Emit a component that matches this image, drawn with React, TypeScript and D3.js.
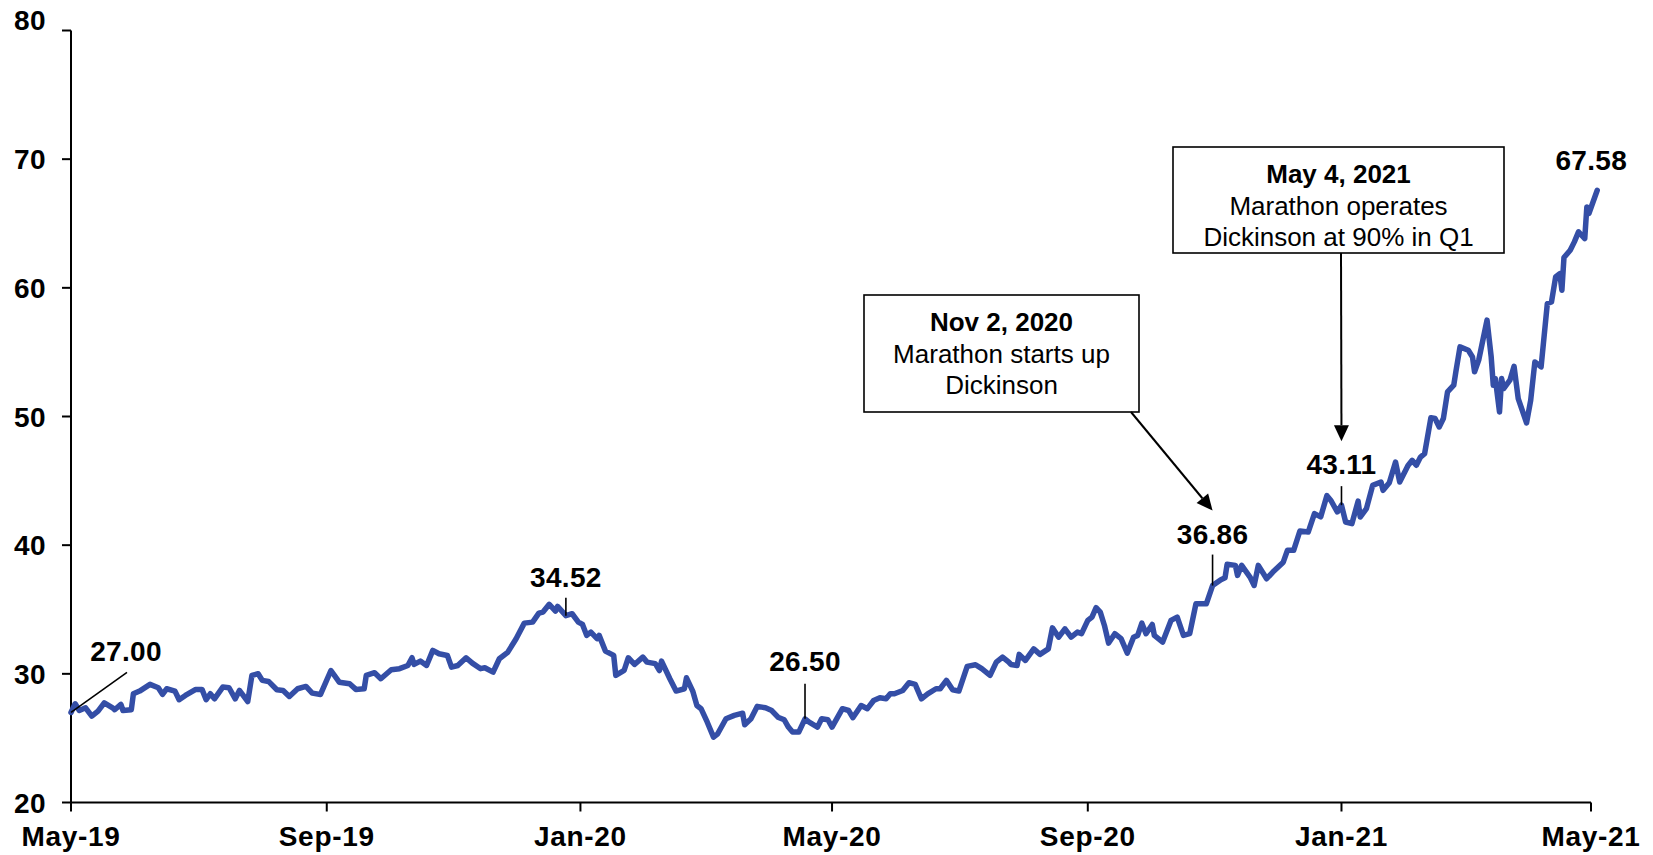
import React from "react";
import * as d3 from "d3";

// ---------- DATA ----------
const priceDates: string[] = [
  "2019-05-01","2019-05-03","2019-05-05","2019-05-08","2019-05-11","2019-05-14","2019-05-17","2019-05-21","2019-05-22","2019-05-25",
  "2019-05-26","2019-05-30","2019-05-31","2019-06-03","2019-06-08","2019-06-12","2019-06-14","2019-06-16","2019-06-20","2019-06-22",
  "2019-06-25","2019-06-30","2019-07-03","2019-07-05","2019-07-07","2019-07-09","2019-07-13","2019-07-16","2019-07-19","2019-07-21",
  "2019-07-25","2019-07-27","2019-07-30","2019-08-01","2019-08-04","2019-08-08","2019-08-11","2019-08-14","2019-08-18","2019-08-22",
  "2019-08-25","2019-08-29","2019-09-03","2019-09-07","2019-09-12","2019-09-15","2019-09-19","2019-09-20","2019-09-24","2019-09-27",
  "2019-10-02","2019-10-06","2019-10-10","2019-10-12","2019-10-13","2019-10-16","2019-10-19","2019-10-22","2019-10-25","2019-10-29",
  "2019-10-31","2019-11-03","2019-11-07","2019-11-10","2019-11-14","2019-11-16","2019-11-20","2019-11-23","2019-11-27","2019-12-01",
  "2019-12-05","2019-12-09","2019-12-12","2019-12-14","2019-12-17","2019-12-20","2019-12-21","2019-12-25","2019-12-28","2019-12-31",
  "2020-01-02","2020-01-04","2020-01-06","2020-01-09","2020-01-10","2020-01-13","2020-01-17","2020-01-18","2020-01-22","2020-01-24",
  "2020-01-27","2020-01-31","2020-02-02","2020-02-06","2020-02-08","2020-02-09","2020-02-13","2020-02-16","2020-02-20","2020-02-21",
  "2020-02-24","2020-02-26","2020-02-28","2020-03-02","2020-03-05","2020-03-07","2020-03-11","2020-03-15","2020-03-19","2020-03-20",
  "2020-03-23","2020-03-26","2020-03-30","2020-04-02","2020-04-05","2020-04-08","2020-04-10","2020-04-12","2020-04-15","2020-04-18",
  "2020-04-20","2020-04-24","2020-04-26","2020-04-29","2020-05-01","2020-05-06","2020-05-09","2020-05-11","2020-05-15","2020-05-18",
  "2020-05-21","2020-05-24","2020-05-27","2020-05-29","2020-05-31","2020-06-04","2020-06-07","2020-06-10","2020-06-13","2020-06-16",
  "2020-06-20","2020-06-22","2020-06-25","2020-06-28","2020-07-01","2020-07-05","2020-07-09","2020-07-12","2020-07-16","2020-07-19",
  "2020-07-22","2020-07-25","2020-07-26","2020-07-29","2020-07-30","2020-08-02","2020-08-06","2020-08-09","2020-08-13","2020-08-15",
  "2020-08-18","2020-08-21","2020-08-24","2020-08-27","2020-08-29","2020-09-01","2020-09-03","2020-09-05","2020-09-07","2020-09-09",
  "2020-09-11","2020-09-14","2020-09-17","2020-09-20","2020-09-23","2020-09-25","2020-09-27","2020-09-29","2020-10-02","2020-10-03",
  "2020-10-07","2020-10-11","2020-10-14","2020-10-17","2020-10-20","2020-10-23","2020-10-28","2020-10-31","2020-11-04","2020-11-06",
  "2020-11-07","2020-11-11","2020-11-12","2020-11-14","2020-11-18","2020-11-20","2020-11-22","2020-11-26","2020-11-29","2020-12-04",
  "2020-12-06","2020-12-09","2020-12-12","2020-12-16","2020-12-19","2020-12-22","2020-12-25","2020-12-27","2020-12-30","2021-01-01",
  "2021-01-03","2021-01-06","2021-01-09","2021-01-10","2021-01-13","2021-01-16","2021-01-20","2021-01-21","2021-01-24","2021-01-27",
  "2021-01-29","2021-02-02","2021-02-04","2021-02-06","2021-02-08","2021-02-10","2021-02-13","2021-02-15","2021-02-17","2021-02-19",
  "2021-02-21","2021-02-24","2021-02-25","2021-02-27","2021-03-03","2021-03-05","2021-03-06","2021-03-08","2021-03-12","2021-03-14",
  "2021-03-15","2021-03-16","2021-03-18","2021-03-19","2021-03-20","2021-03-23","2021-03-25","2021-03-27","2021-03-31","2021-04-02",
  "2021-04-04","2021-04-07","2021-04-10","2021-04-12","2021-04-14","2021-04-16","2021-04-17","2021-04-18","2021-04-21","2021-04-23",
  "2021-04-25","2021-04-28","2021-04-29","2021-04-30","2021-05-04",
];

const priceValues: number[] = [
  27.00,27.67,27.15,27.36,26.71,27.10,27.75,27.36,27.21,27.62,
  27.15,27.21,28.45,28.66,29.18,28.92,28.40,28.84,28.66,27.99,
  28.32,28.79,28.79,27.99,28.45,28.06,28.97,28.92,28.06,28.71,
  27.85,29.88,30.01,29.49,29.41,28.76,28.71,28.24,28.84,29.02,
  28.50,28.40,30.26,29.35,29.23,28.79,28.84,29.88,30.09,29.62,
  30.32,30.40,30.65,31.25,30.73,30.99,30.65,31.82,31.56,31.43,
  30.52,30.65,31.25,30.83,30.40,30.47,30.13,31.17,31.67,32.71,
  33.94,34.02,34.72,34.80,35.40,34.88,35.24,34.52,34.67,34.02,
  33.84,32.99,33.24,32.73,32.99,31.77,31.43,29.88,30.26,31.25,
  30.73,31.30,30.91,30.79,30.26,30.99,29.62,28.66,28.84,29.69,
  28.66,27.54,27.29,26.24,25.08,25.34,26.51,26.77,26.94,26.04,
  26.51,27.47,27.36,27.15,26.63,26.43,25.86,25.47,25.47,26.50,
  26.24,25.86,26.51,26.43,25.86,27.29,27.15,26.59,27.54,27.29,
  27.93,28.14,28.06,28.45,28.45,28.71,29.31,29.18,28.06,28.45,
  28.84,28.84,29.49,28.76,28.66,30.58,30.71,30.40,29.88,30.91,
  31.30,30.91,30.73,30.65,31.51,31.04,31.94,31.51,31.94,33.57,
  32.85,33.50,32.85,33.24,33.12,34.15,34.41,35.14,34.80,33.76,
  32.39,33.12,32.73,31.61,32.85,32.99,33.94,33.12,33.84,32.99,
  32.47,34.15,34.41,32.99,33.12,35.44,35.44,36.86,37.32,37.47,
  38.51,38.43,37.65,38.43,37.52,36.87,38.43,37.39,37.91,38.68,
  39.60,39.60,41.10,41.02,42.45,42.20,43.85,43.45,42.58,43.11,
  41.80,41.67,43.42,42.19,42.84,44.65,44.91,44.26,44.85,46.46,
  44.91,46.20,46.59,46.21,46.85,47.12,49.90,49.84,49.19,49.84,
  51.91,52.43,53.47,55.41,55.15,54.63,53.47,54.38,57.49,54.63,
  52.43,52.95,50.35,52.95,52.17,52.82,53.90,51.39,49.50,51.26,
  54.24,53.85,58.78,58.90,60.85,61.11,59.81,62.36,62.92,63.57,
  64.35,63.83,66.29,65.78,67.58,
];

const yTickValues: number[] = [20, 30, 40, 50, 60, 70, 80];
const xTickDates: string[] = ["2019-05-01", "2019-09-01", "2020-01-01", "2020-05-01", "2020-09-01", "2021-01-01", "2021-05-01"];
const xTickLabels: string[] = ["May-19", "Sep-19", "Jan-20", "May-20", "Sep-20", "Jan-21", "May-21"];

const labelDates: string[] = ["2019-05-01", "2019-12-25", "2020-04-18", "2020-10-31", "2021-01-01", "2021-05-04"];
const labelTexts: string[] = ["27.00", "34.52", "26.50", "36.86", "43.11", "67.58"];

const annotationTitles: string[] = ["Nov 2, 2020", "May 4, 2021"];
const annotationBodies: string[][] = [
  ["Marathon starts up", "Dickinson"],
  ["Marathon operates", "Dickinson at 90% in Q1"],
];
const annotationTargetLabels: number[] = [3, 4]; // index into labels

// ---------- LAYOUT ----------
const W = 1653;
const H = 855;
const FONT = "'Liberation Sans', Arial, Helvetica, sans-serif";
const LINE_COLOR = "#344ea6";

const labelLayout = [
  { kind: "diag", dx: 56, dy: -40, tdx: 55, tdy: -51 },
  { kind: "vert", len: 18, gap: 11 },
  { kind: "vert", len: 35, gap: 13 },
  { kind: "vert", len: 31, gap: 11 },
  { kind: "vert", len: 19, gap: 12 },
  { kind: "none", tdx: -6, tdy: -20 },
];

const boxLayout = [
  { x0: 864, y0: 295, x1: 1139, y1: 412, arrowFromX: 1131 },
  { x0: 1173, y0: 147, x1: 1504, y1: 253, arrowFromX: 1341 },
];

const parse = d3.timeParse("%Y-%m-%d");

function Arrow({ x1, y1, x2, y2 }: { x1: number; y1: number; x2: number; y2: number }) {
  const ang = Math.atan2(y2 - y1, x2 - x1);
  const L = 16;
  const hw = 7.5;
  const bx = x2 - L * Math.cos(ang);
  const by = y2 - L * Math.sin(ang);
  const px = -Math.sin(ang);
  const py = Math.cos(ang);
  const pts = [
    [x2, y2],
    [bx + hw * px, by + hw * py],
    [bx - hw * px, by - hw * py],
  ];
  return (
    <g>
      <line x1={x1} y1={y1} x2={bx} y2={by} stroke="#000" strokeWidth={2} />
      <polygon points={pts.map((p) => p.join(",")).join(" ")} fill="#000" />
    </g>
  );
}

export default function App() {
  const data = priceDates.map((d, i) => ({ date: parse(d) as Date, value: priceValues[i] }));

  const x = d3
    .scaleTime()
    .domain([parse("2019-05-01") as Date, parse("2021-05-01") as Date])
    .range([71, 1591]);
  const y = d3.scaleLinear().domain([20, 80]).range([802.5, 30.5]);

  const line = d3
    .line<{ date: Date; value: number }>()
    .x((d) => x(d.date))
    .y((d) => y(d.value));

  const labels = labelDates.map((ds, i) => {
    const idx = priceDates.indexOf(ds);
    const px = x(parse(ds) as Date);
    const py = y(priceValues[idx]);
    const lay: any = labelLayout[i];
    let tx = px;
    let ty = py;
    let leader: any = null;
    if (lay.kind === "diag") {
      leader = { x1: px, y1: py, x2: px + lay.dx, y2: py + lay.dy };
      tx = px + lay.tdx;
      ty = py + lay.tdy;
    } else if (lay.kind === "vert") {
      leader = { x1: px, y1: py, x2: px, y2: py - lay.len };
      ty = py - lay.len - lay.gap;
    } else {
      tx = px + lay.tdx;
      ty = py + lay.tdy;
    }
    return { text: labelTexts[i], px, py, tx, ty, leader };
  });

  const yMax = d3.max(yTickValues) as number;

  return (
    <svg
      width={W}
      height={H}
      style={{ position: "absolute", left: 0, top: 0, display: "block", background: "#fff" }}
      fontFamily={FONT}
    >
      <rect x={0} y={0} width={W} height={H} fill="#fff" />

      {/* Y axis */}
      <line x1={x.range()[0]} y1={y(80)} x2={x.range()[0]} y2={y(20)} stroke="#000" strokeWidth={2} />
      {yTickValues.map((v) => (
        <g key={v}>
          <line x1={62} x2={x.range()[0]} y1={y(v)} y2={y(v)} stroke="#000" strokeWidth={2} />
          <text
            x={46}
            y={y(v) + (v === yMax ? -11 : 0)}
            dy="0.36em"
            textAnchor="end"
            fontSize={28}
            fontWeight="bold"
            fill="#000"
            letterSpacing={0.4}
          >
            {v}
          </text>
        </g>
      ))}

      {/* X axis */}
      <line x1={x.range()[0]} y1={y(20)} x2={x.range()[1]} y2={y(20)} stroke="#000" strokeWidth={2} />
      {xTickDates.map((ds, i) => {
        const xx = x(parse(ds) as Date);
        return (
          <g key={ds}>
            <line x1={xx} x2={xx} y1={y(20)} y2={y(20) + 9} stroke="#000" strokeWidth={2} />
            <text x={xx} y={846} textAnchor="middle" fontSize={28} fontWeight="bold" fill="#000" letterSpacing={0.7}>
              {xTickLabels[i]}
            </text>
          </g>
        );
      })}

      {/* price line */}
      <path
        d={line(data) || ""}
        fill="none"
        stroke={LINE_COLOR}
        strokeWidth={5.5}
        strokeLinejoin="round"
        strokeLinecap="round"
      />

      {/* data labels */}
      {labels.map((l, i) => (
        <g key={i}>
          {l.leader && (
            <line x1={l.leader.x1} y1={l.leader.y1} x2={l.leader.x2} y2={l.leader.y2} stroke="#000" strokeWidth={1.6} />
          )}
          <text x={l.tx} y={l.ty} textAnchor="middle" fontSize={28} fontWeight="bold" fill="#000" letterSpacing={0.3}>
            {l.text}
          </text>
        </g>
      ))}

      {/* annotation boxes */}
      {annotationTitles.map((t, i) => {
        const b = boxLayout[i];
        const cx = (b.x0 + b.x1) / 2;
        const lab = labels[annotationTargetLabels[i]];
        const tipY = lab.ty - 33;
        return (
          <g key={t}>
            <rect x={b.x0} y={b.y0} width={b.x1 - b.x0} height={b.y1 - b.y0} fill="#fff" stroke="#000" strokeWidth={1.6} />
            <text x={cx} y={b.y0 + 36} textAnchor="middle" fontSize={26} fontWeight="bold" fill="#000">
              {t}
            </text>
            {annotationBodies[i].map((s, j) => (
              <text key={j} x={cx} y={b.y0 + 36 + 31.5 * (j + 1)} textAnchor="middle" fontSize={26} fill="#000">
                {s}
              </text>
            ))}
            <Arrow x1={b.arrowFromX} y1={b.y1} x2={lab.px} y2={tipY} />
          </g>
        );
      })}
    </svg>
  );
}
